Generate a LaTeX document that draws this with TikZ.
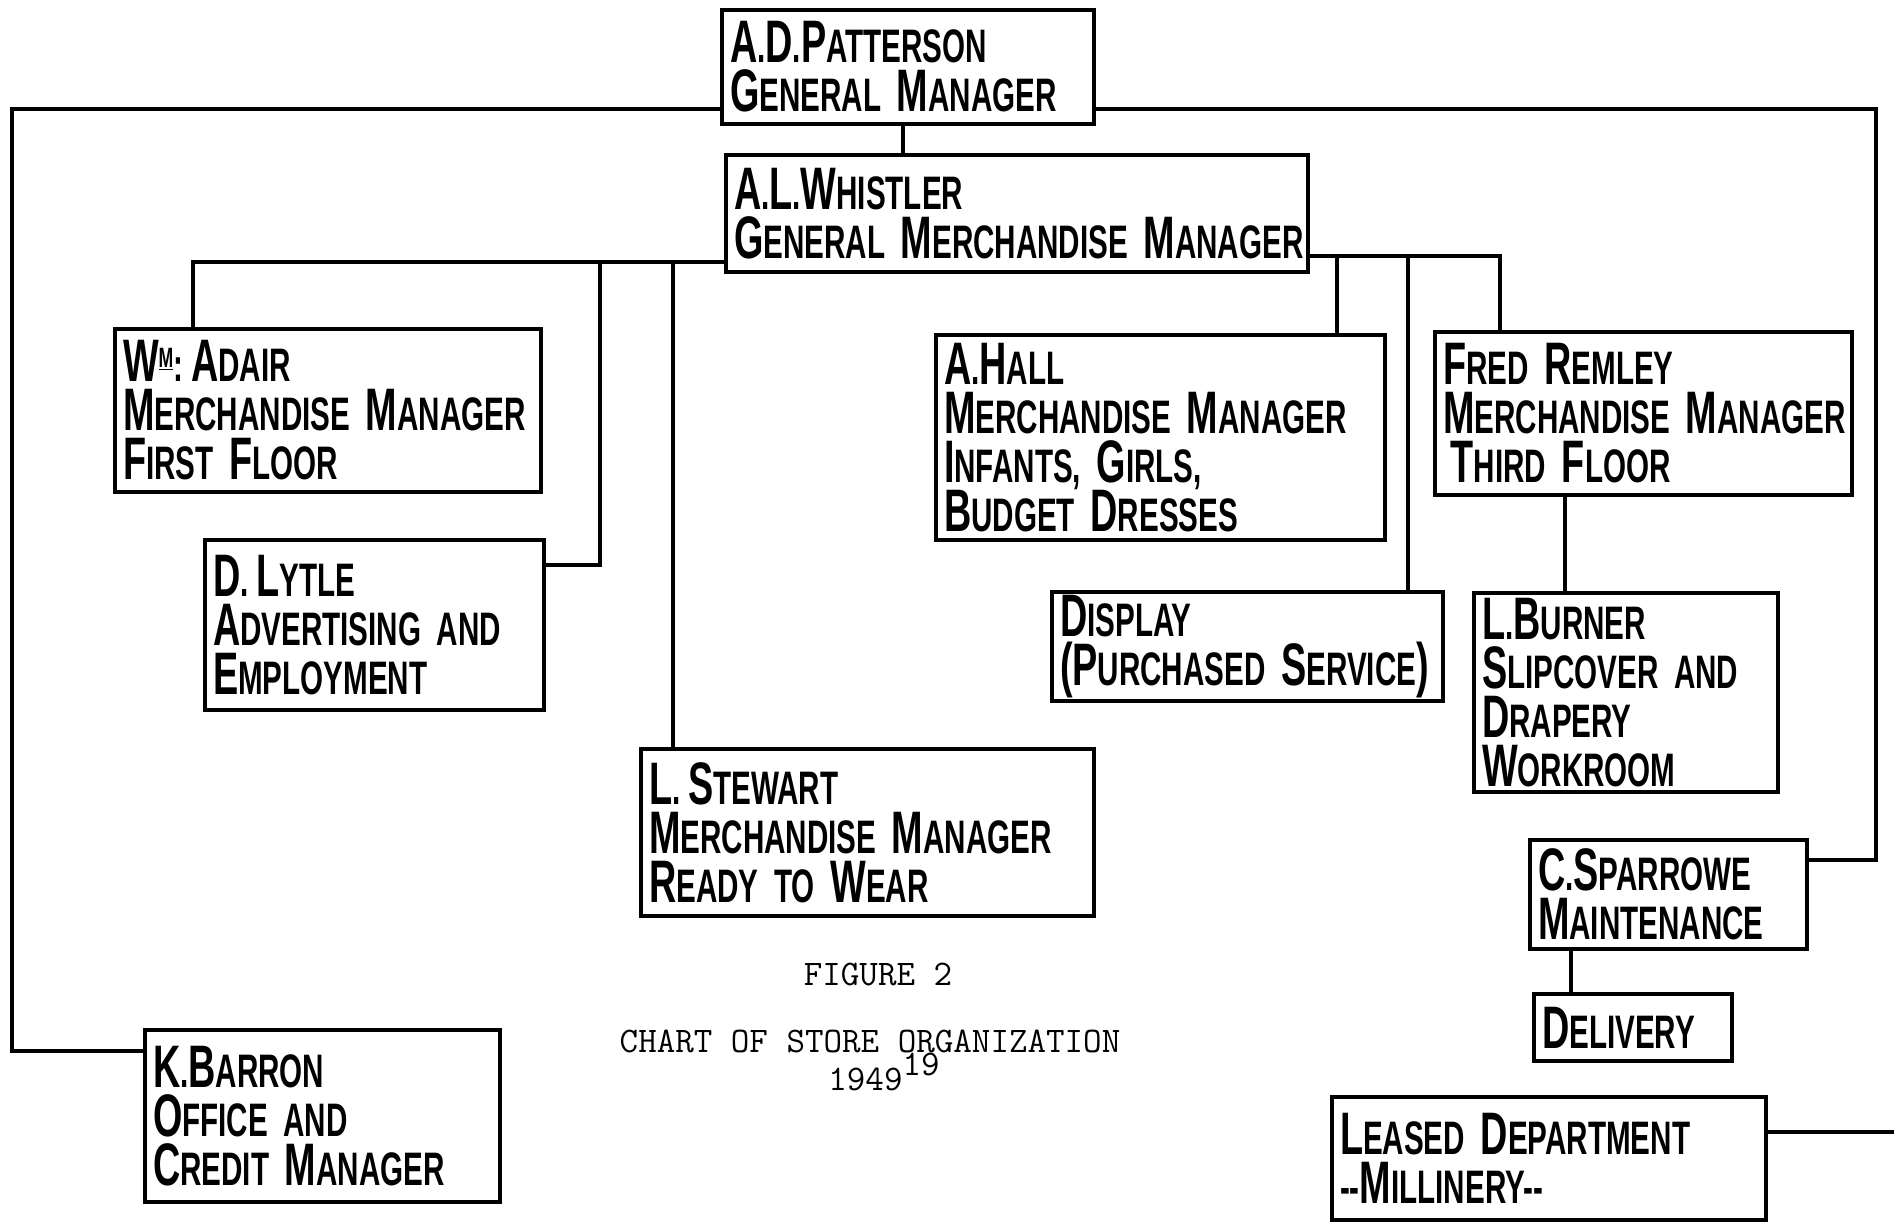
\documentclass[tikz,border=0pt]{standalone}
\usepackage{fontspec}
\newfontfamily\hand[FakeStretch=0.63]{Liberation Sans}
\newcommand\bg[1]{{\fontsize{60}{49}\selectfont #1}}
\tikzset{
  box/.style={draw, line width=4.5pt, inner xsep=8pt, inner ysep=0pt, align=left,
    font=\hand\bfseries\fontsize{47}{49}\selectfont},
  conn/.style={line width=4pt, line join=miter},
  captxt/.style={font=\ttfamily\fontsize{36}{40}\selectfont, inner sep=0pt}
}
\begin{document}
\begin{tikzpicture}[x=1pt,y=-1pt]
\useasboundingbox[fill=white] (0,0) rectangle (1894,1224);
% boxes
\node[box, text width=356pt, minimum height=114pt] (pat) at (908,67)
  {\bg{A}.\bg{D}.\bg{P}ATTERSON\\\bg{G}ENERAL \bg{M}ANAGER};
\node[box, text width=566pt, minimum height=117pt] (whi) at (1017,213.5)
  {\bg{A}.\bg{L}.\bg{W}HISTLER\\\mbox{\bg{G}ENERAL \bg{M}ERCHANDISE \bg{M}ANAGER}};
\node[box, text width=410pt, minimum height=163pt] (ada) at (328,410.5)
  {\bg{W}\raisebox{14pt}{\fontsize{28}{28}\selectfont\underline{M}}:\,\bg{A}DAIR\\\mbox{\bg{M}ERCHANDISE \bg{M}ANAGER}\\\bg{F}IRST \bg{F}LOOR};
\node[box, text width=323pt, minimum height=170pt] (lyt) at (374.5,625)
  {\bg{D}.\,\bg{L}YTLE\\\mbox{\bg{A}DVERTISING AND}\\\bg{E}MPLOYMENT};
\node[box, text width=437pt, minimum height=167pt] (ste) at (867.5,832.5)
  {\bg{L}.\,\bg{S}TEWART\\\mbox{\bg{M}ERCHANDISE \bg{M}ANAGER}\\\bg{R}EADY TO \bg{W}EAR};
\node[box, text width=339pt, minimum height=172pt] (bar) at (322.5,1116)
  {\bg{K}.\bg{B}ARRON\\\bg{O}FFICE AND\\\bg{C}REDIT \bg{M}ANAGER};
\node[box, text width=433pt, minimum height=205pt] (hal) at (1160.5,437.5)
  {\bg{A}.\bg{H}ALL\\\mbox{\bg{M}ERCHANDISE \bg{M}ANAGER}\\\bg{I}NFANTS, \bg{G}IRLS,\\\bg{B}UDGET \bg{D}RESSES};
\node[box, text width=375pt, minimum height=109pt] (dis) at (1247.5,646.5)
  {\bg{D}ISPLAY\\\mbox{\bg{(}\bg{P}URCHASED \bg{S}ERVICE\bg{)}}};
\node[box, text width=401pt, minimum height=163pt] (rem) at (1643.5,413.5)
  {\bg{F}RED \bg{R}EMLEY\\\mbox{\bg{M}ERCHANDISE \bg{M}ANAGER}\\\,\bg{T}HIRD \bg{F}LOOR};
\node[box, text width=288pt, minimum height=199pt] (bur) at (1626,692.5)
  {\bg{L}.\bg{B}URNER\\\mbox{\bg{S}LIPCOVER AND}\\\bg{D}RAPERY\\\bg{W}ORKROOM};
\node[box, text width=261pt, minimum height=109pt] (spa) at (1668.5,894.5)
  {\bg{C}.\bg{S}PARROWE\\\mbox{\bg{M}AINTENANCE}};
\node[box, text width=182pt, minimum height=67pt] (del) at (1633,1027.5)
  {\bg{D}ELIVERY};
\node[box, text width=418pt, minimum height=123pt] (lea) at (1549,1158.5)
  {\bg{L}EASED \bg{D}EPARTMENT\\--\bg{M}ILLINERY--};
% caption
\node[captxt] (fig) at (878,974) {FIGURE 2};
\node[captxt] (cha) at (870,1041) {CHART OF STORE ORGANIZATION};
\node[captxt] (yr) at (884,1072) {1949\raisebox{0.4em}{19}};
% coordinates
\coordinate (pL) at (12,109);
\coordinate (bL) at (12,1051);
\coordinate (pR) at (1876,109);
\coordinate (sR) at (1876,860);
\coordinate (x1) at (903,0);
\coordinate (wL) at (193,262);
\coordinate (lyV) at (600,262);
\coordinate (lyC) at (600,565);
\coordinate (stV) at (673,262);
\coordinate (wR) at (1500,256);
\coordinate (hV) at (1337,256);
\coordinate (dV) at (1408,256);
\coordinate (rb) at (1565,0);
\coordinate (sd) at (1571,0);
\coordinate (lE) at (1894,1132);
% connectors
\draw[conn] (pat.west |- pL) -- (pL) -- (bL) -- (bar.west |- bL);
\draw[conn] (pat.east |- pR) -- (pR) -- (sR) -- (spa.east |- sR);
\draw[conn] (pat.south -| x1) -- (whi.north -| x1);
\draw[conn] (whi.west |- wL) -- (wL) -- (ada.north -| wL);
\draw[conn] (lyV) -- (lyC) -- (lyt.east |- lyC);
\draw[conn] (stV) -- (ste.north -| stV);
\draw[conn] (whi.east |- wR) -- (wR) -- (rem.north -| wR);
\draw[conn] (hV) -- (hal.north -| hV);
\draw[conn] (dV) -- (dis.north -| dV);
\draw[conn] (rem.south -| rb) -- (bur.north -| rb);
\draw[conn] (spa.south -| sd) -- (del.north -| sd);
\draw[conn] (lea.east |- lE) -- (lE);
\end{tikzpicture}
\end{document}
